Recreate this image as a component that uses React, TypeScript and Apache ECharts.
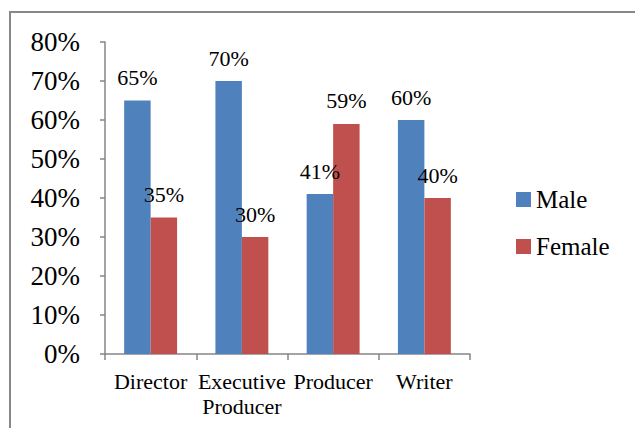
import React, { useEffect, useRef } from "react";
import * as echarts from "echarts";

const categories = ["Director", "Executive\nProducer", "Producer", "Writer"];
const maleValues = [65, 70, 41, 60];
const femaleValues = [35, 30, 59, 40];
const seriesNames = ["Male", "Female"];

const FONT = "Liberation Serif";

export default function App() {
  const ref = useRef<HTMLDivElement>(null);
  useEffect(() => {
    const chart = echarts.init(ref.current!, undefined, { renderer: "svg" });
    const labelStyle = {
      show: true,
      position: "top" as const,
      distance: 12,
      formatter: "{c}%",
      fontFamily: FONT,
      fontSize: 22,
      color: "#000",
    };
    chart.setOption({
      animation: false,
      backgroundColor: "#fff",
      textStyle: { fontFamily: FONT },
      graphic: [
        {
          type: "rect",
          shape: { x: 10, y: 12, width: 700, height: 500 },
          style: { fill: "none", stroke: "#888", lineWidth: 2 },
          silent: true,
        },
      ],
      grid: { left: 105, right: 165, top: 42, bottom: 74 },
      legend: {
        orient: "vertical",
        left: 511,
        top: 182,
        itemWidth: 15,
        itemHeight: 15,
        itemGap: 22,
        icon: "rect",
        textStyle: { fontFamily: FONT, fontSize: 25, color: "#000", lineHeight: 25 },
        data: seriesNames,
      },
      xAxis: {
        type: "category",
        data: categories,
        axisLine: { lineStyle: { color: "#868686", width: 1.5 } },
        axisTick: { show: true, length: 6, lineStyle: { color: "#868686", width: 1.5 } },
        axisLabel: {
          fontFamily: FONT,
          fontSize: 22,
          lineHeight: 25,
          color: "#000",
          margin: 15,
          interval: 0,
        },
      },
      yAxis: {
        type: "value",
        min: 0,
        max: 80,
        interval: 10,
        splitLine: { show: false },
        axisLine: { show: true, lineStyle: { color: "#868686", width: 1.5 } },
        axisTick: { show: true, length: 5, lineStyle: { color: "#868686", width: 1.5 } },
        axisLabel: {
          formatter: "{value}%",
          fontFamily: FONT,
          fontSize: 27,
          color: "#000",
          margin: 25,
        },
      },
      series: [
        {
          name: seriesNames[0],
          type: "bar",
          data: maleValues,
          barGap: "0%",
          barCategoryGap: "42%",
          itemStyle: { color: "#4F81BD" },
          label: labelStyle,
        },
        {
          name: seriesNames[1],
          type: "bar",
          data: femaleValues,
          barGap: "0%",
          barCategoryGap: "42%",
          itemStyle: { color: "#C0504D" },
          label: labelStyle,
        },
      ],
    });
    return () => chart.dispose();
  }, []);
  return (
    <div
      ref={ref}
      style={{ position: "absolute", left: 0, top: 0, width: 635, height: 428 }}
    />
  );
}
